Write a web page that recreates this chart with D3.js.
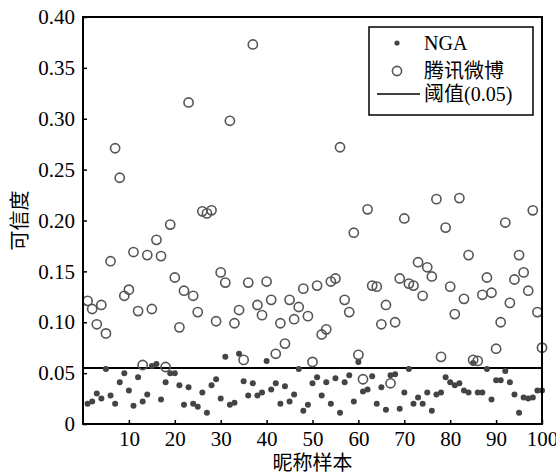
<!DOCTYPE html>
<html>
<head>
<meta charset="utf-8">
<script src="https://cdn.jsdelivr.net/npm/d3@7"></script>
<style>
  body { margin: 0; background: #fff; }
  text { font-family: "Liberation Serif", "Noto Sans CJK SC", serif; }
</style>
</head>
<body>
<svg id="chart"></svg>
<script>
// sample index 1..100
const samples = d3.range(1, 101);

const ngaValues = [
  0.020, 0.022, 0.030, 0.025, 0.054, 0.028, 0.020, 0.041, 0.050, 0.033,
  0.018, 0.046, 0.022, 0.029, 0.057, 0.059, 0.024, 0.041, 0.050, 0.050,
  0.038, 0.019, 0.036, 0.020, 0.017, 0.031, 0.011, 0.038, 0.044, 0.025,
  0.066, 0.019, 0.021, 0.069, 0.042, 0.028, 0.040, 0.028, 0.031, 0.062,
  0.034, 0.040, 0.020, 0.037, 0.022, 0.029, 0.054, 0.013, 0.019, 0.040,
  0.046, 0.028, 0.041, 0.020, 0.045, 0.011, 0.041, 0.048, 0.022, 0.061,
  0.032, 0.034, 0.047, 0.020, 0.036, 0.014, 0.048, 0.049, 0.015, 0.031,
  0.054, 0.020, 0.026, 0.020, 0.031, 0.013, 0.029, 0.031, 0.046, 0.041,
  0.038, 0.040, 0.033, 0.031, 0.060, 0.031, 0.031, 0.054, 0.024, 0.043,
  0.043, 0.052, 0.041, 0.029, 0.011, 0.026, 0.025, 0.026, 0.033, 0.033
];

const weiboValues = [
  0.121, 0.113, 0.098, 0.117, 0.089, 0.160, 0.271, 0.242, 0.126, 0.132,
  0.169, 0.111, 0.058, 0.166, 0.113, 0.181, 0.165, 0.056, 0.196, 0.144,
  0.095, 0.131, 0.316, 0.126, 0.110, 0.209, 0.207, 0.210, 0.101, 0.149,
  0.139, 0.298, 0.099, 0.112, 0.063, 0.139, 0.373, 0.117, 0.107, 0.140,
  0.122, 0.069, 0.099, 0.079, 0.122, 0.103, 0.115, 0.133, 0.106, 0.061,
  0.136, 0.088, 0.093, 0.140, 0.143, 0.272, 0.122, 0.110, 0.188, 0.068,
  0.044, 0.211, 0.136, 0.135, 0.098, 0.117, 0.040, 0.100, 0.143, 0.202,
  0.138, 0.136, 0.159, 0.126, 0.154, 0.145, 0.221, 0.066, 0.193, 0.135,
  0.108, 0.222, 0.123, 0.166, 0.063, 0.062, 0.127, 0.144, 0.129, 0.074,
  0.100, 0.198, 0.119, 0.142, 0.166, 0.149, 0.131, 0.210, 0.110, 0.075
];

const threshold = 0.055;
const xTicks = [10, 20, 30, 40, 50, 60, 70, 80, 90, 100];
const yTicks = [0, 0.05, 0.10, 0.15, 0.20, 0.25, 0.30, 0.35, 0.40];
const legendLabels = ['NGA', '腾讯微博', '阈值(0.05)'];

const width = 556, height = 475;
const margin = { top: 17, right: 14, bottom: 51, left: 83 };
const innerWidth = width - margin.left - margin.right;
const innerHeight = height - margin.top - margin.bottom;

const svg = d3.select('#chart')
  .attr('width', width)
  .attr('height', height);

const chart = svg.append('g')
  .attr('transform', `translate(${margin.left}, ${margin.top})`);

const xscale = d3.scaleLinear().domain([0, 100]).range([0, innerWidth]);
const yscale = d3.scaleLinear().domain([0, 0.4]).range([innerHeight, 0]);

const xaxis = d3.axisBottom(xscale)
  .tickValues(xTicks)
  .tickSizeInner(-4)
  .tickSizeOuter(0)
  .tickPadding(7);

const yaxis = d3.axisLeft(yscale)
  .tickValues(yTicks)
  .tickSizeInner(-4)
  .tickSizeOuter(0)
  .tickPadding(8)
  .tickFormat(d => d === 0 ? '0' : d3.format('.2f')(d));

const xaxis_group = chart.append('g')
  .attr('transform', `translate(0, ${innerHeight})`)
  .call(xaxis);
const yaxis_group = chart.append('g').call(yaxis);

[xaxis_group, yaxis_group].forEach(g => {
  g.select('.domain').remove();
  g.selectAll('.tick line').attr('stroke', '#000').attr('stroke-width', 1.5);
  g.selectAll('.tick text')
    .attr('fill', '#000')
    .style('font-size', '21px')
    .style('font-family', '"Liberation Serif", serif');
});

// threshold line
chart.append('line')
  .attr('x1', 0).attr('x2', innerWidth)
  .attr('y1', yscale(threshold)).attr('y2', yscale(threshold))
  .attr('stroke', '#000')
  .attr('stroke-width', 2);

chart.append('g').selectAll('circle')
  .data(samples)
  .join('circle')
  .attr('cx', d => xscale(d))
  .attr('cy', (d, i) => yscale(ngaValues[i]))
  .attr('r', 3)
  .attr('fill', '#444');

chart.append('g').selectAll('circle')
  .data(samples)
  .join('circle')
  .attr('cx', d => xscale(d))
  .attr('cy', (d, i) => yscale(weiboValues[i]))
  .attr('r', 4.6)
  .attr('fill', 'none')
  .attr('stroke', '#555')
  .attr('stroke-width', 1.6);

// frame
chart.append('rect')
  .attr('width', innerWidth)
  .attr('height', innerHeight)
  .attr('fill', 'none')
  .attr('stroke', '#000')
  .attr('stroke-width', 2);

// legend
const legend = svg.append('g').attr('transform', 'translate(369, 27)');
legend.append('rect')
  .attr('width', 164).attr('height', 88)
  .attr('fill', '#fff')
  .attr('stroke', '#000')
  .attr('stroke-width', 1.5);
const rowY = [16, 44, 67];
legend.append('circle').attr('cx', 28).attr('cy', rowY[0]).attr('r', 2.6).attr('fill', '#444');
legend.append('circle').attr('cx', 28).attr('cy', rowY[1]).attr('r', 4.6)
  .attr('fill', 'none').attr('stroke', '#555').attr('stroke-width', 1.6);
legend.append('line').attr('x1', 8).attr('x2', 51).attr('y1', rowY[2]).attr('y2', rowY[2])
  .attr('stroke', '#000').attr('stroke-width', 1.5);
legend.selectAll('text.label')
  .data(legendLabels)
  .join('text')
  .attr('class', 'label')
  .attr('x', 55)
  .attr('y', (d, i) => rowY[i])
  .attr('dy', '0.35em')
  .style('font-size', '20px')
  .text(d => d);

svg.append('text')
  .attr('x', margin.left + innerWidth / 2)
  .attr('y', 470)
  .attr('text-anchor', 'middle')
  .style('font-size', '20px')
  .text('昵称样本');

svg.append('text')
  .attr('transform', `translate(27, ${margin.top + innerHeight / 2}) rotate(-90)`)
  .attr('text-anchor', 'middle')
  .style('font-size', '20px')
  .text('可信度');
</script>
</body>
</html>
